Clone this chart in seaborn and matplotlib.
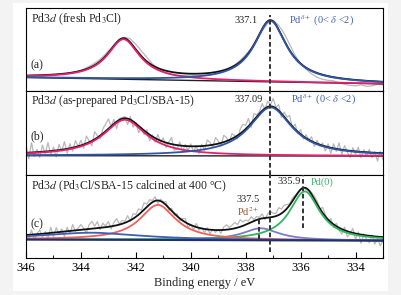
import numpy as np
import matplotlib
matplotlib.use("Agg")
import matplotlib.pyplot as plt
import seaborn as sns
from matplotlib.patches import Rectangle
from matplotlib.ticker import MultipleLocator, FixedLocator

# ---------------- data ----------------
x_major_ticks = [346, 344, 342, 340, 338, 336, 334]
x_lim = (346, 333)

raw_start = 346.0
raw_step_a = 0.2
raw_step_b = 0.1
raw_step_c = 0.1

raw_a = [15.0, 14.2, 15.5, 14.8, 15.9, 16.0, 17.2, 16.6, 18.5, 19.2,
         21.0, 23.5, 26.5, 30.0, 34.5, 40.5, 46.0, 51.5, 54.0, 52.5,
         47.0, 40.5, 34.0, 27.5, 23.0, 19.5, 17.0, 16.0, 15.5, 15.8,
         16.2, 15.5, 15.8, 16.5, 17.2, 18.5, 20.5, 23.0, 26.5, 31.0,
         36.5, 43.0, 51.0, 60.5, 68.0, 71.0, 66.0, 58.0, 47.0, 36.0,
         28.0, 22.0, 17.5, 14.0, 12.0, 11.0, 10.5, 8.5, 7.0, 6.0,
         5.5, 6.5, 5.0, 5.5, 7.0, 6.5]

raw_b = [29.6, 15.8, 32.0, 18.1, 25.3, 17.4, 29.6, 20.8, 32.0, 20.3,
         27.5, 17.9, 30.2, 23.6, 32.9, 21.3, 30.9, 23.5, 34.1, 27.8,
         34.4, 26.5, 38.6, 33.8, 28.9, 43.0, 38.9, 35.8, 45.8, 50.7,
         55.6, 48.4, 55.3, 46.1, 56.0, 56.8, 58.0, 50.0, 58.5, 47.5,
         52.2, 42.1, 47.1, 40.0, 45.0, 33.9, 39.7, 32.4, 40.2, 32.9,
         36.7, 27.1, 32.5, 37.0, 24.4, 25.8, 32.6, 23.4, 30.2, 24.0,
         30.8, 22.9, 29.0, 21.1, 30.2, 24.3, 34.7, 32.2, 27.6, 37.1,
         33.5, 28.4, 39.3, 37.2, 32.1, 41.0, 38.9, 35.7, 45.6, 50.4,
         49.3, 56.2, 47.1, 61.1, 60.0, 62.9, 71.0, 65.0, 73.5, 69.8,
         76.2, 67.5, 70.0, 57.5, 62.5, 57.7, 59.0, 47.2, 50.5, 40.8,
         45.1, 35.5, 40.0, 34.4, 37.9, 28.3, 34.4, 28.5, 31.6, 23.7,
         30.8, 21.3, 30.8, 23.3, 31.8, 20.3, 29.0, 22.6, 17.3, 27.0,
         20.7, 27.4, 17.1, 24.9, 18.6, 25.3, 17.1, 22.8, 13.6, 23.3,
         15.1]

raw_c = [25.6, 18.8, 28.0, 18.3, 24.5, 27.7, 21.0, 26.3, 18.5, 30.8,
         21.1, 30.4, 23.7, 29.1, 21.4, 30.7, 24.0, 33.4, 26.7, 30.1,
         33.4, 29.7, 25.0, 33.3, 36.6, 31.9, 36.2, 28.5, 34.8, 32.1,
         36.4, 29.0, 35.6, 39.3, 33.9, 37.5, 36.9, 42.3, 36.8, 44.2,
         43.6, 49.1, 47.7, 55.2, 53.8, 58.3, 57.5, 61.3, 54.5, 58.8,
         56.0, 56.2, 47.4, 49.7, 42.9, 44.1, 37.2, 39.4, 39.5, 30.7,
         33.8, 28.1, 34.5, 27.8, 30.2, 25.5, 30.3, 24.1, 28.8, 25.6,
         28.4, 24.7, 30.9, 33.2, 30.4, 32.7, 35.5, 33.4, 38.2, 36.1,
         37.9, 37.0, 41.2, 38.3, 41.5, 40.6, 44.1, 38.5, 44.0, 46.4,
         44.9, 44.6, 50.3, 48.9, 52.6, 53.3, 54.1, 59.9, 62.7, 65.5,
         69.3, 71.1, 68.0, 68.0, 65.5, 61.9, 56.8, 48.7, 50.6, 43.5,
         36.4, 39.5, 30.6, 34.7, 27.8, 23.9, 31.0, 21.2, 24.3, 29.5,
         18.6, 26.1, 14.7, 24.2, 18.8, 15.3, 23.0, 13.8, 19.5, 12.3,
         18.0]

# fitted components: background (at 346 eV, at 333 eV), peak centre, height, half width
bg_a = [13.8, 7.5]
centers_a = [342.45, 337.1]
heights_a = [40, 61]
hwhm_a = [0.72, 0.72]
colors_a = ['#e4206e', '#2f55a4']

bg_b = [19.0, 18.6]
centers_b = [342.4, 337.09]
heights_b = [36, 48.5]
hwhm_b = [0.95, 0.95]
colors_b = ['#e4206e', '#2f55a4']

bg_c = [18.5, 17.3]
centers_c = [343.6, 341.2, 337.45, 335.85]
heights_c = [7, 35, 12, 49]
hwhm_c = [2.2, 0.8, 0.8, 0.67]
colors_c = ['#3d5fb5', '#f0605a', '#7b7bc6', '#2fb560']
order_c = [2, 3, 1, 0]  # drawing order of components in panel (c)

titles = [r"Pd3$d$ (fresh Pd$_3$Cl)",
          r"Pd3$d$ (as-prepared Pd$_3$Cl/SBA-15)",
          r"Pd3$d$ (Pd$_3$Cl/SBA-15 calcined at 400 °C)"]
tags = ["(a)", "(b)", "(c)"]
ref_be = 337.1
ref_spans = [(0, 76), (0, 83.3), (6, 83.3)]
c_marks = [337.5, 335.9]
c_mark_spans = [(19, 39), (30, 83.3)]

# ---------------- style ----------------
sns.set_theme(style="white")
plt.rcParams['font.family'] = ['Liberation Serif', 'DejaVu Serif']
plt.rcParams['mathtext.fontset'] = 'stix'

W, H = 401, 295
fig = plt.figure(figsize=(W / 100, H / 100), dpi=100)
fig.patch.set_facecolor('#f3f3f3')
fig.add_artist(Rectangle((13 / W, 1 - 291 / H), (388 - 13) / W, (291 - 3) / H,
                         transform=fig.transFigure, facecolor='white',
                         edgecolor='none', zorder=-5))
gs = fig.add_gridspec(3, 1, left=26 / W, right=383 / W, top=1 - 8 / H,
                      bottom=1 - 258 / H, hspace=0)
axes = [fig.add_subplot(gs[i]) for i in range(3)]


def lor(x, c, h, w):
    return h / (1 + ((x - c) / w) ** 2)


xf = np.linspace(333, 346, 651)
panels = [
    (raw_a, raw_step_a, bg_a, centers_a, heights_a, hwhm_a, colors_a, '#222222', [0, 1]),
    (raw_b, raw_step_b, bg_b, centers_b, heights_b, hwhm_b, colors_b, '#222222', [0, 1]),
    (raw_c, raw_step_c, bg_c, centers_c, heights_c, hwhm_c, colors_c, '#22306a', order_c),
]

for i, (ax, (raw, step, bg, cs, hs, ws, cols, bgcol, order)) in enumerate(zip(axes, panels)):
    xr = raw_start - step * np.arange(len(raw))
    sns.lineplot(x=xr, y=raw, ax=ax, color='#b8b8b8', lw=0.9, sort=False,
                 estimator=None, legend=False)
    bgl = bg[1] + (bg[0] - bg[1]) * (xf - 333) / 13
    comps = [lor(xf, c, h, w) for c, h, w in zip(cs, hs, ws)]
    env = bgl + np.sum(comps, axis=0)
    if i < 2:
        sns.lineplot(x=xf, y=bgl, ax=ax, color=bgcol, lw=1.0, sort=False,
                     estimator=None, legend=False)
    sns.lineplot(x=xf, y=env, ax=ax, color='#111111', lw=1.3, sort=False,
                 estimator=None, legend=False)
    for k in order:
        sns.lineplot(x=xf, y=bgl + comps[k], ax=ax, color=cols[k], lw=1.3,
                     sort=False, estimator=None, legend=False)
    if i == 2:
        sns.lineplot(x=xf, y=bgl, ax=ax, color=bgcol, lw=1.5, sort=False,
                     estimator=None, legend=False)
    ax.vlines(ref_be, ref_spans[i][0], ref_spans[i][1], color='#333333',
              lw=1.4, linestyles=(0, (2.4, 1.4)), zorder=5)
    ax.set_xlim(*x_lim)
    ax.set_ylim(0, 83.3)
    ax.set_yticks([])
    ax.set_ylabel('')
    for sp in ax.spines.values():
        sp.set_color('black')
        sp.set_linewidth(0.8)
    ax.text(345.82, [72, 74, 72][i], titles[i], fontsize=8.5, ha='left', va='center')
    ax.text(345.82, [26, 38, 34][i], tags[i], fontsize=8.5, ha='left', va='center')
    if i < 2:
        ax.tick_params(axis='x', which='both', bottom=False, labelbottom=False)

# peak annotations
axes[0].text(337.57, 71, "337.1", fontsize=7.5, ha='right', va='center')
axes[0].text(336.44, 71, r"Pd$^{\delta+}$ (0< $\delta$ <2)", fontsize=7.5,
             ha='left', va='center', color='#3d5fb5')
axes[1].text(337.39, 75, "337.09", fontsize=7.5, ha='right', va='center')
axes[1].text(336.36, 75, r"Pd$^{\delta+}$ (0< $\delta$ <2)", fontsize=7.5,
             ha='left', va='center', color='#3d5fb5')
axc = axes[2]
for m, (y0, y1) in zip(c_marks, c_mark_spans):
    axc.vlines(m, y0, y1, color='#333333', lw=1.4, linestyles=(0, (2.4, 1.4)), zorder=5)
axc.text(337.9, 58, "337.5", fontsize=7.5, ha='center', va='center')
axc.text(337.9, 46, r"Pd$^{2+}$", fontsize=7.5, ha='center', va='center', color='#a0522d')
axc.text(336.0, 76, "335.9", fontsize=7.5, ha='right', va='center')
axc.text(335.64, 76, "Pd(0)", fontsize=7.5, ha='left', va='center', color='#3cb371')

axc.xaxis.set_major_locator(FixedLocator(x_major_ticks))
axc.xaxis.set_minor_locator(MultipleLocator(1))
axc.tick_params(axis='x', which='major', direction='in', length=4, width=0.8,
                bottom=True, labelbottom=True, labelsize=9, pad=3, colors='black')
axc.tick_params(axis='x', which='minor', direction='in', length=2.5, width=0.8,
                bottom=True)
axc.set_xticklabels([str(t) for t in x_major_ticks])
axc.set_xlabel("Binding energy / eV", fontsize=9, labelpad=2)

fig.savefig('out.png', dpi=100, facecolor=fig.get_facecolor())
